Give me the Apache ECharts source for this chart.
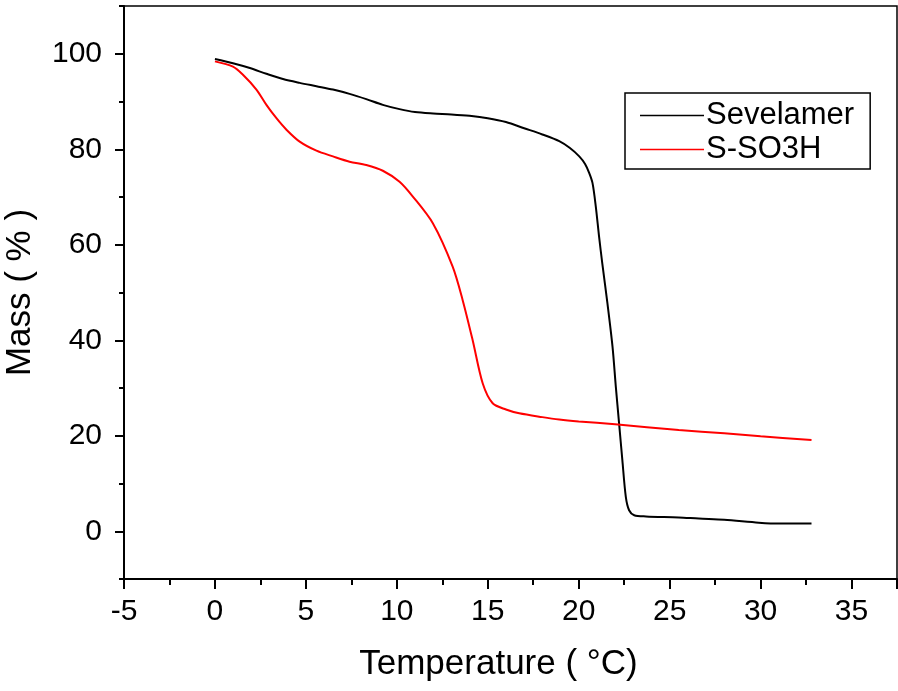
<!DOCTYPE html>
<html>
<head>
<meta charset="utf-8">
<script src="https://cdn.jsdelivr.net/npm/echarts@6/dist/echarts.min.js"></script>
<style>html,body{margin:0;padding:0;background:#fff}#c{width:898px;height:691px}</style>
</head>
<body>
<div id="c"></div>
<script>
const sevelamerT = [0, 0.99, 1.92, 2.83, 3.74, 4.66, 5.58, 6.49, 7.4, 8.32, 9.23, 10.15, 11, 12, 13, 14, 15, 16, 17, 18, 18.93, 19.5, 20.03, 20.35, 20.58, 20.76, 20.94, 21.12, 21.3, 21.58, 21.86, 22.04, 22.22, 22.4, 22.59, 22.77, 23.05, 23.7, 25.5, 26.6, 28, 29.9, 31, 32.8];
const sevelamerMass = [98.9, 98.0, 97.0, 95.8, 94.7, 93.9, 93.2, 92.5, 91.6, 90.5, 89.3, 88.4, 87.8, 87.5, 87.3, 87.0, 86.5, 85.7, 84.4, 83.1, 81.7, 80.3, 78.5, 76.9, 75, 72.9, 68, 61.7, 56, 47.7, 38.6, 30.3, 22.6, 14.9, 7.2, 4.4, 3.35, 3.1, 2.9, 2.65, 2.4, 1.8, 1.6, 1.6];
const so3hT = [0, 0.99, 1.54, 2.28, 2.83, 3.38, 3.93, 4.66, 5.58, 6.49, 7.4, 8.32, 9.23, 10.15, 10.88, 11.98, 13.07, 13.62, 14.17, 14.72, 15.27, 16, 16.73, 18, 18.93, 20, 22, 25.5, 28, 30, 32.8];
const so3hMass = [98.4, 97.3, 95.6, 92.5, 89.3, 86.5, 84.1, 81.6, 79.7, 78.5, 77.4, 76.7, 75.5, 73.2, 70.1, 64.5, 55.4, 48.4, 40, 31, 26.8, 25.5, 24.7, 23.9, 23.4, 23.0, 22.4, 21.2, 20.5, 19.9, 19.1];
const seriesNames = ['Sevelamer', 'S-SO3H'];
const xTitle = 'Temperature ( °C)';
const yTitle = 'Mass ( % )';

const zip = (a, b) => a.map((v, i) => [v, b[i]]);
const font = '"Liberation Sans", Arial, sans-serif';
// main plot: y from -10 to 110 over 573 px (top 6, bottom 112)
const yMin = -10, yMax = 110, gTop = 6, gBottom = 112;
const pxPerUnit = (691 - gTop - gBottom) / (yMax - yMin);
const chart = echarts.init(document.getElementById('c'), null, {renderer: 'canvas'});
chart.setOption({
  animation: false,
  backgroundColor: '#fff',
  grid: [
    {left: 124, top: gTop, right: 1, bottom: gBottom, show: true, borderColor: '#000', borderWidth: 1.5,
      containLabel: false, outerBoundsMode: 'none'},
    // helper grid spanning exactly 0..100 of the main y scale, only for major y ticks
    {left: 124, right: 1, top: gTop + (yMax - 100) * pxPerUnit, bottom: gBottom + (0 - yMin) * pxPerUnit, show: false,
      containLabel: false, outerBoundsMode: 'none'}
  ],
  legend: {
    orient: 'vertical', left: 625, top: 93,
    borderColor: '#000', borderWidth: 1.5,
    padding: [7, 16, 4, 15],
    icon: 'rect',
    itemWidth: 64, itemHeight: 1.5, itemGap: 3,
    textStyle: {fontFamily: font, fontSize: 31, lineHeight: 31, color: '#000', padding: [0, 0, 0, -3]},
    data: seriesNames
  },
  xAxis: [{
    type: 'value', min: -5, max: 37.5, interval: 5, gridIndex: 0,
    name: xTitle, nameLocation: 'middle', nameGap: 68,
    nameTextStyle: {fontFamily: font, fontSize: 35, color: '#000', padding: [0, 24, 0, 0]},
    axisLine: {onZero: false, lineStyle: {color: '#000', width: 2}},
    axisTick: {show: true, inside: false, length: 10, lineStyle: {color: '#000', width: 2}},
    minorTick: {show: true, splitNumber: 2, length: 6, lineStyle: {color: '#000', width: 2}},
    axisLabel: {fontFamily: font, fontSize: 30, color: '#000', margin: 18,
      formatter: v => (v > 36 ? '' : String(v))},
    splitLine: {show: false}
  }, {
    type: 'value', min: -5, max: 37.5, gridIndex: 1, show: false
  }],
  yAxis: [{
    type: 'value', min: yMin, max: yMax, interval: 10, gridIndex: 0,
    name: yTitle, nameLocation: 'middle', nameGap: 86,
    nameTextStyle: {fontFamily: font, fontSize: 35, color: '#000'},
    axisLine: {onZero: false, lineStyle: {color: '#000', width: 2}},
    axisTick: {show: true, inside: false, length: 5, lineStyle: {color: '#000', width: 2}},
    axisLabel: {fontFamily: font, fontSize: 30, color: '#000', margin: 22,
      formatter: v => (v >= 0 && v <= 100 && v % 20 === 0 ? String(v) : '')},
    splitLine: {show: false}
  }, {
    type: 'value', min: 0, max: 100, interval: 20, gridIndex: 1,
    axisLine: {show: false, onZero: false},
    axisTick: {show: true, inside: false, length: 9, lineStyle: {color: '#000', width: 2}},
    axisLabel: {show: false},
    splitLine: {show: false}
  }],
  series: [
    {name: seriesNames[0], type: 'line', data: zip(sevelamerT, sevelamerMass), symbol: 'none', smooth: 0.3,
      lineStyle: {color: '#000', width: 2}, itemStyle: {color: '#000'}},
    {name: seriesNames[1], type: 'line', data: zip(so3hT, so3hMass), symbol: 'none', smooth: 0.3,
      lineStyle: {color: '#ff0000', width: 2}, itemStyle: {color: '#ff0000'}}
  ]
});
</script>
</body>
</html>
